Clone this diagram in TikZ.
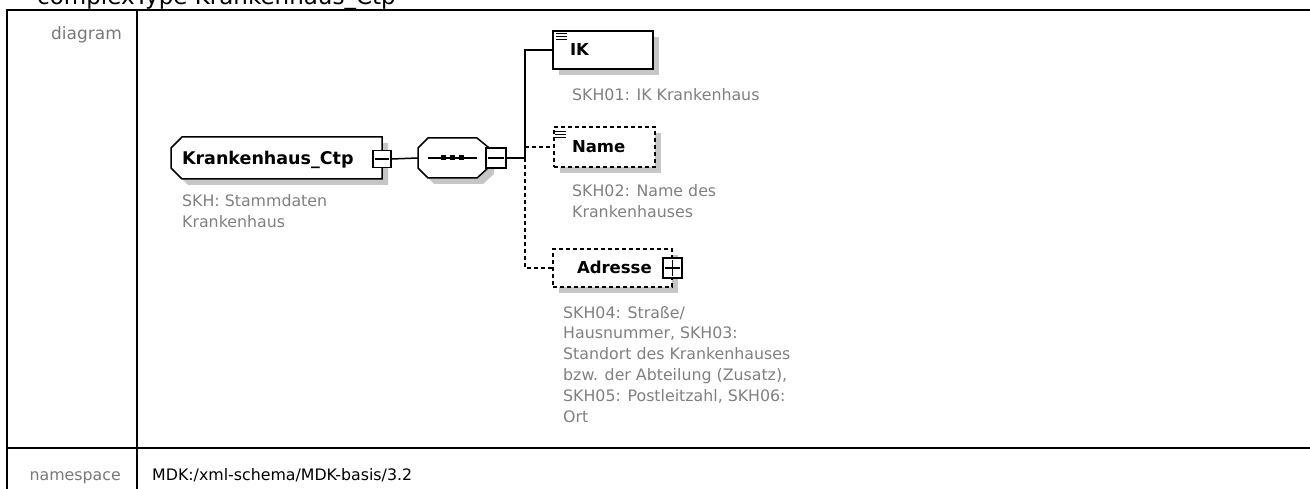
\documentclass[tikz,border=0pt]{standalone}
\usepackage{fontspec}
\setmainfont{DejaVu Sans}
\usetikzlibrary{shadows}
\definecolor{descgray}{RGB}{128,128,128}
\definecolor{labgray}{RGB}{120,120,120}
\definecolor{shadowgray}{RGB}{198,198,198}
\tikzset{
  shad/.style={drop shadow={shadow xshift=6pt,shadow yshift=-6pt,fill=shadowgray,draw=none,opacity=1}},
  elembox/.style={draw,fill=white,shad,rectangle,line width=1.5pt,inner ysep=0pt,text height=12pt,text depth=0pt,align=left,font=\fontsize{16.5}{19}\selectfont\bfseries},
  optbox/.style={elembox,dash pattern=on 4pt off 3pt},
  desc/.style={anchor=base west,inner sep=0pt,align=left,text=descgray,font=\fontsize{15.8}{20.8}\selectfont},
  btn/.style={draw,fill=white,rectangle,inner sep=0pt,line width=1.3pt},
  rowlabel/.style={anchor=base east,inner sep=0pt,text=labgray,font=\fontsize{15.8}{19}\selectfont},
  conn/.style={line width=1.5pt},
  optconn/.style={line width=1.5pt,dash pattern=on 4pt off 3pt},
  icon/.style={line width=1pt},
  mark line/.style={line width=1.3pt},
  outline/.style={draw,fill=white,line width=1.5pt},
  shadowfill/.style={fill=shadowgray},
  tableline/.style={line width=2pt}
}
\begin{document}
\begin{tikzpicture}[x=1pt,y=-1pt]
\useasboundingbox (0,0) rectangle (1310,489);
% title
\node[anchor=base west,inner sep=0pt,font=\fontsize{23}{26}\selectfont] (title) at (37,5) {complexType Krankenhaus\_Ctp};
% table
\draw[tableline] (7,10) -- (1312,10);
\draw[tableline] (7,448) -- (1312,448);
\draw[tableline] (7,9) -- (7,492);
\draw[tableline] (137,9) -- (137,492);
\node[rowlabel,font=\fontsize{17}{19}\selectfont] (lab1) at (122,40) {diagram};
\node[rowlabel] (lab2) at (121,480) {namespace};
\node[anchor=base west,inner sep=0pt,font=\fontsize{15.8}{19}\selectfont] (ns) at (152,480) {MDK:/xml-schema/MDK-basis/3.2};

% root complex type (outline with chamfered left corners)
\fill[shadowfill] (188,143) -- (388,143) -- (388,185) -- (188,185) -- (177,174) -- (177,154) -- cycle;
\draw[outline] (182,137) -- (382,137) -- (382,179) -- (182,179) -- (171,168) -- (171,148) -- cycle;
\node[rectangle, minimum width=211pt, minimum height=42pt,
      inner xsep=11pt, inner ysep=0pt, text width=189pt, text height=12.5pt, text depth=0pt,
      align=left, font=\fontsize{17.5}{20}\selectfont\bfseries] (kh) at (276.5,158) {Krankenhaus\_Ctp};
\node[btn, minimum width=18pt, minimum height=17pt] (khm) at (382,159) {};
\draw[mark line] ([xshift=3pt]khm.west) -- ([xshift=-3pt]khm.east);

% sequence compositor (octagon)
\fill[shadowfill] (434,144) -- (483,144) -- (494,153) -- (494,174) -- (483,184) -- (434,184) -- (424,174) -- (424,154) -- cycle;
\draw[outline] (428,138) -- (477,138) -- (488,147) -- (488,168) -- (477,178) -- (428,178) -- (418,168) -- (418,148) -- cycle;
\node[rectangle, minimum width=70pt, minimum height=40pt, inner sep=0pt] (seq) at (453,158) {};
\draw[mark line] (428,158) -- (477,158);
\foreach \x in {443,452,461} \fill (\x-2.5,155.5) rectangle (\x+2.5,160.5);
\node[btn, minimum width=20pt, minimum height=20pt] (seqm) at (496,158) {};
\draw[mark line] ([xshift=3pt]seqm.west) -- ([xshift=-3pt]seqm.east);

\draw[conn] (khm.east) -- (seq.west);
\coordinate (j) at (525,158);
\draw[conn] (seqm.east) -- (j);

% elements
\node[elembox, minimum width=100pt, minimum height=38pt, inner xsep=17pt, text width=66pt] (ik) at (603,50) {IK};
\node[optbox, minimum width=101pt, minimum height=40pt, inner xsep=18pt, text width=65pt] (name) at (604.5,147) {Name};
\node[optbox, minimum width=119pt, minimum height=38pt, inner xsep=24pt, text width=71pt] (adr) at (612.5,268) {Adresse};
\node[btn, minimum width=19pt, minimum height=20pt] (adrp) at (672.5,268) {};
\draw[mark line] ([xshift=3pt]adrp.west) -- ([xshift=-3pt]adrp.east);
\draw[mark line] ([yshift=-3pt]adrp.north) -- ([yshift=3pt]adrp.south);

\foreach \d in {3,6,9} \draw[icon] ([shift={(4pt,-\d pt)}]ik.north west) -- ++(11pt,0);
\foreach \d in {5,8,11} \draw[icon] ([shift={(2pt,-\d pt)}]name.north west) -- ++(11pt,0);

% connectors
\draw[conn] (j) |- (ik.west);
\draw[optconn] (j |- name.west) -- (name.west);
\draw[optconn] (j) |- (adr.west);

% descriptions (anchor at the baseline of the last line)
\node[desc] (khd) at (182,227.8) {SKH: Stammdaten\\Krankenhaus};
\node[desc] (ikd) at (572,101) {SKH01: IK Krankenhaus};
\node[desc] (named) at (572,217.8) {SKH02: Name des\\Krankenhauses};
\node[desc] (adrd) at (563,422) {SKH04: Straße/\\Hausnummer, SKH03:\\Standort des Krankenhauses\\bzw. der Abteilung (Zusatz),\\SKH05: Postleitzahl, SKH06:\\Ort};
\end{tikzpicture}
\end{document}
